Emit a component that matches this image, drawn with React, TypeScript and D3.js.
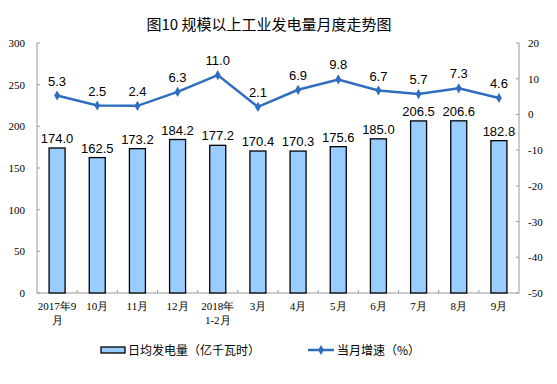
import React from "react";
import * as d3 from "d3";

const months = ["2017年9月", "10月", "11月", "12月", "2018年1-2月", "3月", "4月", "5月", "6月", "7月", "8月", "9月"];
const monthLines = [["2017年9", "月"], ["10月"], ["11月"], ["12月"], ["2018年", "1-2月"], ["3月"], ["4月"], ["5月"], ["6月"], ["7月"], ["8月"], ["9月"]];
const dailyOutput = [174.0, 162.5, 173.2, 184.2, 177.2, 170.4, 170.3, 175.6, 185.0, 206.5, 206.6, 182.8];
const growth = [5.3, 2.5, 2.4, 6.3, 11.0, 2.1, 6.9, 9.8, 6.7, 5.7, 7.3, 4.6];
const leftTicks = [0, 50, 100, 150, 200, 250, 300];
const rightTicks = [-50, -40, -30, -20, -10, 0, 10, 20];

const W = 557;
const H = 384;
const margin = { top: 43, right: 38, bottom: 91, left: 37 };

const serif = "'Liberation Serif', 'Times New Roman', serif";
const sans = "'Liberation Sans', Arial, sans-serif";
const cjk = "'Noto Sans CJK SC', sans-serif";
const lineColor = "#2f6dbf";

const diamond = d3.symbol(d3.symbolDiamond, 30);

const App = () => {
  const x = d3.scaleBand().domain(months).range([margin.left, W - margin.right]).paddingInner(0).paddingOuter(0);
  const yL = d3.scaleLinear().domain([0, 300]).range([H - margin.bottom, margin.top]);
  const yR = d3.scaleLinear().domain([-50, 20]).range([H - margin.bottom, margin.top]);
  const barW = 16;
  const cx = (m) => x(m) + x.bandwidth() / 2;

  const line = d3
    .line<number>()
    .x((d, i) => cx(months[i]))
    .y((d) => yR(d));

  const x0 = margin.left;
  const x1 = W - margin.right;
  const yBase = yL(0);

  return (
    <svg width={W} height={H} style={{ position: "absolute", left: 0, top: 0, background: "#fff" }}>
      <text x={269} y={30} textAnchor="middle" fontFamily={cjk} fontSize={15} fill="#000">
        图10 规模以上工业发电量月度走势图
      </text>

      {/* axes */}
      <line x1={x0} x2={x0} y1={yL(300)} y2={yBase} stroke="#999" />
      <line x1={x1} x2={x1} y1={yR(20)} y2={yBase} stroke="#999" />
      <line x1={x0} x2={x1} y1={yBase} y2={yBase} stroke="#999" />
      {leftTicks.map((t) => (
        <g key={"l" + t}>
          <line x1={x0} x2={x0 + 3} y1={yL(t)} y2={yL(t)} stroke="#999" />
          <text x={25} y={yL(t) + 4} textAnchor="end" fontFamily={serif} fontSize={11} fill="#000">
            {t}
          </text>
        </g>
      ))}
      {rightTicks.map((t) => (
        <g key={"r" + t}>
          <line x1={x1 - 3} x2={x1} y1={yR(t)} y2={yR(t)} stroke="#999" />
          <text x={528} y={yR(t) + 4} textAnchor="start" fontFamily={serif} fontSize={11} fill="#000">
            {t}
          </text>
        </g>
      ))}
      {months.slice(1).map((m) => (
        <line key={"t" + m} x1={x(m)} x2={x(m)} y1={yBase} y2={yBase - 3} stroke="#999" />
      ))}

      {/* bars */}
      {dailyOutput.map((v, i) => (
        <g key={"b" + i}>
          <rect
            x={cx(months[i]) - barW / 2}
            y={yL(v)}
            width={barW}
            height={yBase - yL(v)}
            fill="#99ccff"
            stroke="#000"
            strokeWidth={1.3}
          />
          <text x={cx(months[i])} y={yL(v) - 5} textAnchor="middle" fontFamily={sans} fontSize={13} fill="#000">
            {v.toFixed(1)}
          </text>
        </g>
      ))}

      {/* line */}
      <path d={line(growth)} fill="none" stroke={lineColor} strokeWidth={2.5} />
      {growth.map((v, i) => (
        <g key={"p" + i}>
          <path d={diamond()} transform={`translate(${cx(months[i])},${yR(v)})`} fill={lineColor} />
          <text x={cx(months[i])} y={yR(v) - 10} textAnchor="middle" fontFamily={sans} fontSize={13} fill="#000">
            {v.toFixed(1)}
          </text>
        </g>
      ))}

      {/* category labels */}
      {monthLines.map((lines, i) => (
        <text key={"c" + i} x={cx(months[i])} textAnchor="middle" fontFamily={serif} fontSize={11} fill="#000">
          {lines.map((s, j) => (
            <tspan key={j} x={cx(months[i])} y={310 + j * 14}>
              {s}
            </tspan>
          ))}
        </text>
      ))}

      {/* legend */}
      <rect x={101} y={347} width={24} height={6} fill="#99ccff" stroke="#000" strokeWidth={1.3} />
      <text x={128} y={355} fontFamily={cjk} fontSize={12} fill="#000">
        日均发电量（亿千瓦时）
      </text>
      <line x1={308} x2={334} y1={350} y2={350} stroke={lineColor} strokeWidth={2.5} />
      <path d={diamond()} transform="translate(321,350)" fill={lineColor} />
      <text x={337} y={355} fontFamily={cjk} fontSize={12} fill="#000">
        当月增速（%）
      </text>
    </svg>
  );
};

export default App;
